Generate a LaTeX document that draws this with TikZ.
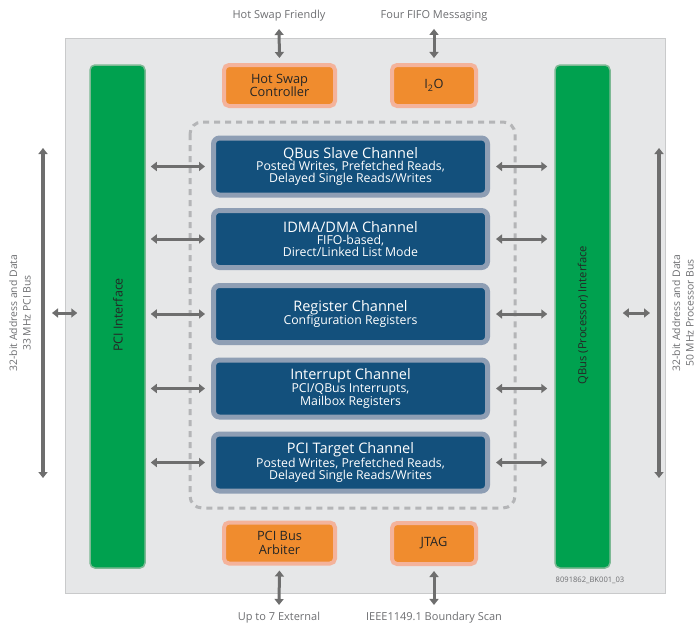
\documentclass[tikz,border=0pt]{standalone}
\usepackage{fontspec}
\setmainfont{Open Sans}
\usetikzlibrary{arrows.meta}
\definecolor{panel}{HTML}{E6E7E8}
\definecolor{panelline}{HTML}{C9CACB}
\definecolor{arrowgray}{HTML}{6E6E6E}
\definecolor{labelgray}{HTML}{6D6E71}
\definecolor{chanblue}{HTML}{13507C}
\definecolor{chanhalo}{HTML}{8E9EB4}
\definecolor{blockorange}{HTML}{F08C2E}
\definecolor{orangehalo}{HTML}{F4B39B}
\definecolor{ifgreen}{HTML}{00A14F}
\definecolor{ifline}{HTML}{7DB994}
\definecolor{dashgray}{HTML}{B4B5B7}
\def\drawbus{\draw[dbl, line width=3.5pt]}
\def\chantitle{\fontsize{14.5}{15}\selectfont}
\def\chansub{\fontsize{12.3}{14}\selectfont}

\tikzset{
  dbl/.style={{Triangle[width=9pt,length=6pt]}-{Triangle[width=9pt,length=6pt]},
    line width=3pt, draw=arrowgray},
  chanbox/.style={rectangle, rounded corners=6pt, fill=chanblue, draw=chanhalo,
    line width=5pt, minimum width=274pt, minimum height=57pt, text=white,
    align=center, inner sep=0pt},
  orangebox/.style={rectangle, rounded corners=5pt, fill=blockorange, draw=orangehalo,
    line width=4pt, minimum height=41pt, text=black!85, align=center, inner sep=0pt,
    font=\fontsize{12.8}{13.5}\selectfont},
  ifbox/.style={rectangle, rounded corners=5pt, fill=ifgreen, draw=ifline,
    line width=1.5pt, minimum width=55pt, minimum height=503pt, inner sep=0pt},
  iftext/.style={rotate=90, text=black!85},
  extlabel/.style={text=labelgray, font=\fontsize{11}{12.5}\selectfont, align=center}
}

\begin{document}
\begin{tikzpicture}[x=1pt,y=-1pt]
\useasboundingbox (0,0) rectangle (695,626);
\filldraw[fill=panel, draw=panelline, line width=0.8pt] (65,38) rectangle (665,593);
\draw[dashgray, line width=3pt, dash pattern=on 6pt off 5pt, rounded corners=12pt]
  (190,122) rectangle (515,508);

% interfaces
\node[ifbox] (pci) at (117.5,316.5) {};
\node[iftext, font=\fontsize{12.5}{13}\selectfont] at (118,315) {PCI Interface};
\node[ifbox] (qbus) at (582.5,316.5) {};
\node[iftext, font=\fontsize{11.2}{12}\selectfont] at (583,315) {QBus (Processor) Interface};

% channels
\node[chanbox] (slave) at (350.5,166.5)
  {{\chantitle QBus Slave Channel}\\{\chansub Posted Writes, Prefetched Reads,}\\{\chansub Delayed Single Reads/Writes}};
\node[chanbox] (dma) at (350.5,239)
  {{\chantitle IDMA/DMA Channel}\\{\chansub FIFO-based,}\\{\chansub Direct/Linked List Mode}};
\node[chanbox] (reg) at (350.5,314)
  {{\chantitle Register Channel}\\{\chansub Configuration Registers}};
\node[chanbox] (irq) at (350.5,388.5)
  {{\chantitle Interrupt Channel}\\{\chansub PCI/QBus Interrupts,}\\{\chansub Mailbox Registers}};
\node[chanbox] (target) at (350.5,462.5)
  {{\chantitle PCI Target Channel}\\{\chansub Posted Writes, Prefetched Reads,}\\{\chansub Delayed Single Reads/Writes}};

\foreach \ch in {slave,dma,reg,irq,target}{
  \draw[dbl, shorten <=5pt, shorten >=6pt] (\ch.west -| pci.east) -- (\ch.west);
  \draw[dbl, shorten <=6pt, shorten >=7pt] (\ch.east) -- (\ch.east -| qbus.west);
}

% side blocks
\node[orangebox, minimum width=111pt] (hotswap) at (279.5,85.5) {Hot Swap\\Controller};
\node[orangebox, minimum width=84pt] (i2o) at (434,85.5) {I\textsubscript{2}O};
\node[orangebox, minimum width=111pt] (arbiter) at (279.5,543) {PCI Bus\\Arbiter};
\node[orangebox, minimum width=84pt] (jtag) at (434,543.5) {JTAG};

\node[extlabel] (hsf) at (279,16) {Hot Swap Friendly};
\node[extlabel] (fifo) at (434,16) {Four FIFO Messaging};
\node[extlabel] (ext) at (279,618) {Up to 7 External};
\node[extlabel] (bscan) at (434,618) {IEEE1149.1 Boundary Scan};
\draw[dbl, shorten <=4pt, shorten >=5pt] (hsf.south) -- (hotswap.north);
\draw[dbl, shorten <=4pt, shorten >=5pt] (fifo.south) -- (i2o.north);
\draw[dbl, shorten <=5pt, shorten >=4pt] (arbiter.south) -- (ext.north);
\draw[dbl, shorten <=5pt, shorten >=4pt] (jtag.south) -- (bscan.north);

% external buses
\coordinate (pcitop) at (43,148);
\coordinate (pcibot) at (43,478);
\coordinate (pcibus) at (43,313);
\coordinate (cputop) at (659,148);
\coordinate (cpubot) at (659,478);
\coordinate (cpubus) at (659,313);
\drawbus (pcitop) -- (pcibot);
\drawbus (cputop) -- (cpubot);
\draw[dbl] ([xshift=9pt]pcibus) -- ([xshift=-12pt]pci.west |- pcibus);
\draw[dbl] ([xshift=-9pt]cpubus) -- ([xshift=12pt]qbus.east |- cpubus);
\node[extlabel, rotate=90, font=\fontsize{10.4}{13.5}\selectfont] (pcilabel) at (20,313)
  {32-bit Address and Data\\33 MHz PCI Bus};
\node[extlabel, rotate=90, font=\fontsize{10.4}{13.5}\selectfont] (cpulabel) at (683,313)
  {32-bit Address and Data\\50 MHz Processor Bus};

\node[text=labelgray, font=\fontsize{7.6}{8}\selectfont] (docid) at (590,580) {8091862\_BK001\_03};
\end{tikzpicture}
\end{document}
